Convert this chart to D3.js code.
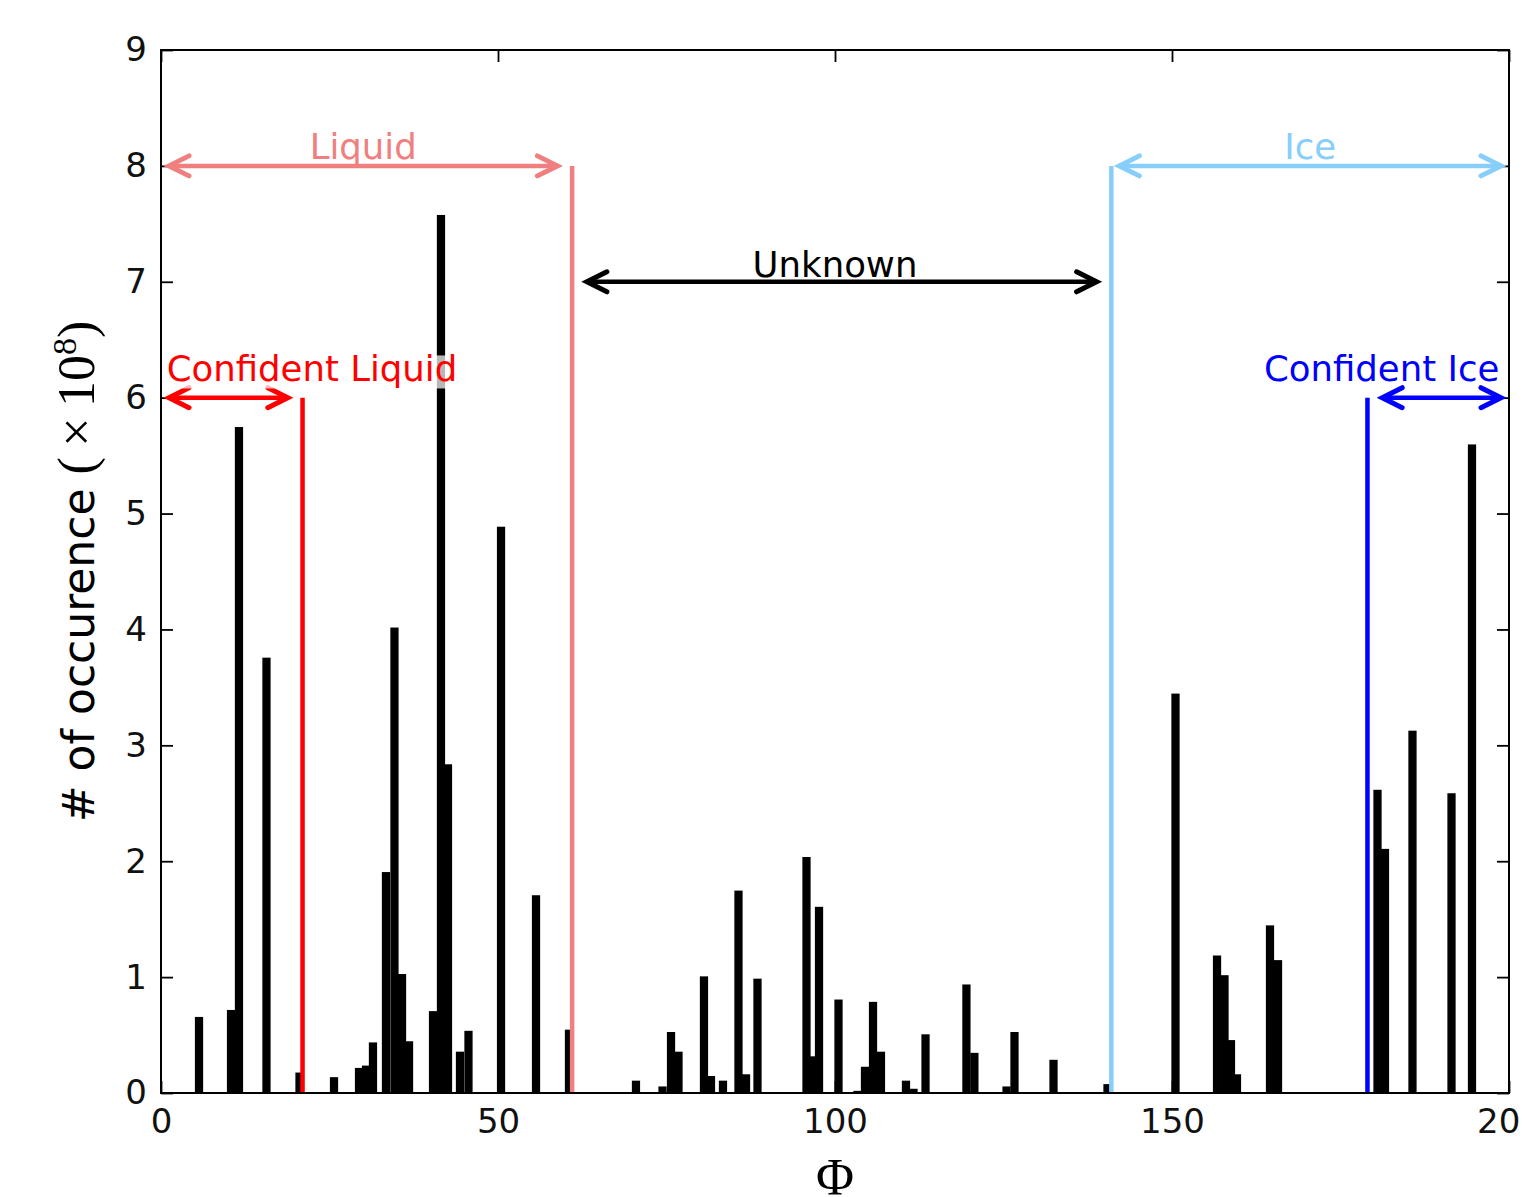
<!DOCTYPE html>
<html>
<head>
<meta charset="utf-8">
<script src="https://cdnjs.cloudflare.com/ajax/libs/d3/7.8.5/d3.min.js"></script>
<style>
  body { margin: 0; background: #fff; }
  svg { display: block; }
  .tick text { font-family: "DejaVu Sans", sans-serif; font-size: 34px; fill: #111; }
</style>
</head>
<body>
<div id="chart"></div>
<script>
// histogram of phi, counts in units of 1e8
var phiCenters = [5.64, 10.39, 11.57, 15.65, 20.55, 25.67, 29.38, 30.42, 31.45, 33.38,
  34.64, 35.76, 36.8, 40.36, 41.54, 42.58, 44.36, 45.62, 50.45, 55.64,
  60.53, 70.47, 74.41, 75.67, 76.78, 80.56, 81.6, 83.38, 85.68, 86.8,
  88.5, 95.77, 96.74, 97.63, 100.52, 103.34, 104.45, 105.64, 106.82, 110.53,
  111.65, 113.43, 119.5, 120.68, 125.45, 126.63, 132.42, 140.43, 150.52, 156.68,
  157.79, 158.75, 159.64, 164.54, 165.73, 180.49, 181.6, 185.68, 191.47, 194.51]
var counts = [0.65, 0.71, 5.74, 3.75, 0.17, 0.13, 0.21, 0.23, 0.43, 1.90,
  4.01, 1.02, 0.44, 0.70, 7.57, 2.83, 0.35, 0.53, 4.88, 1.70,
  0.54, 0.10, 0.05, 0.52, 0.35, 1.00, 0.14, 0.10, 1.74, 0.155,
  0.98, 2.03, 0.31, 1.60, 0.80, 0.012, 0.22, 0.78, 0.35, 0.10,
  0.03, 0.50, 0.93, 0.34, 0.05, 0.52, 0.28, 0.07, 3.44, 1.18,
  1.01, 0.45, 0.155, 1.44, 1.14, 2.61, 2.10, 3.12, 2.58, 5.59]

// thresholds (vertical lines)
var thresholdPhi = [21, 61, 141, 179]
var thresholdTop = [6, 8, 8, 6]

// region arrows
var regionNames = ['Liquid', 'Confident Liquid', 'Unknown', 'Ice', 'Confident Ice']
var regionFrom = [0, 0, 62, 141, 180]
var regionTo = [60, 20, 140, 200, 200]
var regionLevel = [8, 6, 7, 8, 6]
var regionLabelPhi = [30, 22.4, 100, 170.5, 181.1]
var regionLabelLevel = [8.06, 6.14, 7.04, 8.06, 6.14]

var xTicks = [0, 50, 100, 150, 200]
var yTicks = [0, 1, 2, 3, 4, 5, 6, 7, 8, 9]

var lineColors = ['#ff0000', '#f08080', '#87cefa', '#0000ff']
var regionColors = ['#f08080', '#ff0000', '#000000', '#87cefa', '#0000ff']

var width = 1522
var height = 1197
var margin = {top: 50, right: 13, bottom: 104, left: 161}

var svg = d3.select('#chart').append('svg')
  .attr('width', width)
  .attr('height', height)

var x = d3.scaleLinear().domain([0, 200]).range([margin.left, width - margin.right])
var y = d3.scaleLinear().domain([0, 9]).range([height - margin.bottom, margin.top])

var binW = x(1) - x(0)

// bars
svg.append('g').selectAll('rect')
  .data(phiCenters)
  .enter().append('rect')
  .attr('x', function (d) { return x(d - 0.5) })
  .attr('width', binW)
  .attr('y', function (d, i) { return y(counts[i]) })
  .attr('height', function (d, i) { return y(0) - y(counts[i]) })
  .attr('fill', '#000')
  .attr('stroke', '#000')
  .attr('stroke-width', 1.5)

// threshold lines
svg.append('g').selectAll('line')
  .data(thresholdPhi)
  .enter().append('line')
  .attr('x1', function (d) { return x(d) })
  .attr('x2', function (d) { return x(d) })
  .attr('y1', y(0))
  .attr('y2', function (d, i) { return y(thresholdTop[i]) })
  .attr('stroke', function (d, i) { return lineColors[i] })
  .attr('stroke-width', 4.5)

// axes, ticks pointing inward
var tickLen = 12
svg.append('g')
  .attr('transform', 'translate(0,' + y(0) + ')')
  .call(d3.axisBottom(x).tickValues(xTicks).tickSize(-tickLen).tickPadding(16))
svg.append('g')
  .attr('transform', 'translate(0,' + y(9) + ')')
  .call(d3.axisTop(x).tickValues(xTicks).tickSize(-tickLen).tickFormat(''))
svg.append('g')
  .attr('transform', 'translate(' + x(0) + ',0)')
  .call(d3.axisLeft(y).tickValues(yTicks).tickSize(-tickLen).tickPadding(14))
svg.append('g')
  .attr('transform', 'translate(' + x(200) + ',0)')
  .call(d3.axisRight(y).tickValues(yTicks).tickSize(-tickLen).tickFormat(''))

svg.selectAll('.domain').remove()
svg.selectAll('.tick line').attr('stroke', '#000').attr('stroke-width', 1.8)

svg.append('rect')
  .attr('x', x(0))
  .attr('y', y(9))
  .attr('width', x(200) - x(0))
  .attr('height', y(0) - y(9))
  .attr('fill', 'none')
  .attr('stroke', '#000')
  .attr('stroke-width', 2)

// arrows with open heads
var shrink = 8
var headL = 20
var headW = 10
var arrows = svg.append('g')
regionNames.forEach(function (name, i) {
  var x1 = x(regionFrom[i]) + shrink
  var x2 = x(regionTo[i]) - shrink
  var yy = y(regionLevel[i])
  var col = regionColors[i]
  arrows.append('path')
    .attr('d', 'M' + (x1 + 2) + ',' + yy + 'L' + (x2 - 2) + ',' + yy)
    .attr('stroke', col)
    .attr('stroke-width', 4.5)
    .attr('fill', 'none')
  arrows.append('path')
    .attr('d', 'M' + (x1 + headL) + ',' + (yy - headW) + 'L' + x1 + ',' + yy + 'L' + (x1 + headL) + ',' + (yy + headW) +
      'M' + (x2 - headL) + ',' + (yy - headW) + 'L' + x2 + ',' + yy + 'L' + (x2 - headL) + ',' + (yy + headW))
    .attr('stroke', col)
    .attr('stroke-width', 5)
    .attr('stroke-linejoin', 'miter')
    .attr('stroke-linecap', 'round')
    .attr('fill', 'none')
})

// region labels
regionNames.forEach(function (name, i) {
  var t = svg.append('text')
    .attr('x', x(regionLabelPhi[i]))
    .attr('y', y(regionLabelLevel[i]))
    .attr('text-anchor', 'middle')
    .style('font-family', '"DejaVu Sans", sans-serif')
    .style('font-size', '35.5px')
    .attr('fill', regionColors[i])
    .text(name)
  if (name === 'Confident Liquid') {
    // semi transparent white box behind the label
    var bb = t.node().getBBox()
    svg.insert('rect', function () { return t.node() })
      .attr('x', bb.x)
      .attr('y', y(regionLabelLevel[i]) - 26)
      .attr('width', bb.width)
      .attr('height', 33)
      .attr('fill', '#fff')
      .attr('opacity', 0.72)
  }
})

// axis labels
var yl = svg.append('text')
  .attr('transform', 'translate(94,' + ((y(0) + y(9)) / 2) + ') rotate(-90)')
  .attr('text-anchor', 'middle')
  .style('font-family', '"DejaVu Sans", sans-serif')
  .style('font-size', '44px')
  .attr('fill', '#000')
yl.append('tspan').text('# of occurence ')
yl.append('tspan').style('font-family', '"Liberation Serif", serif').style('font-size', '52px').text('(\u2009\u00d7\u200910')
yl.append('tspan').style('font-family', '"Liberation Serif", serif').style('font-size', '34px').attr('dy', '-18').text('8')
yl.append('tspan').style('font-family', '"Liberation Serif", serif').style('font-size', '52px').attr('dy', '18').text(')')

svg.append('text')
  .attr('x', x(100))
  .attr('y', 1195)
  .attr('text-anchor', 'middle')
  .style('font-family', '"Liberation Serif", serif')
  .style('font-size', '52px')
  .attr('fill', '#000')
  .text('\u03a6')
</script>
</body>
</html>
